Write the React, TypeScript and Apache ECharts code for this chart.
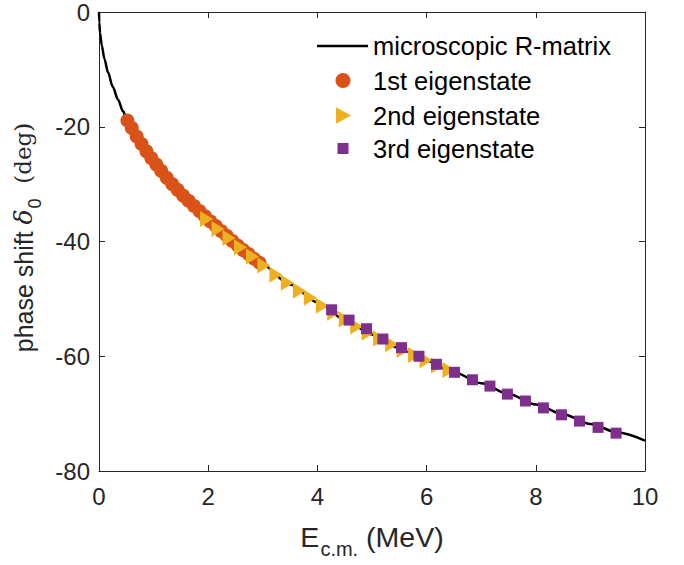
import React, { useEffect, useRef } from "react";
import * as echarts from "echarts";

// microscopic R-matrix curve (E in MeV, phase shift in deg)
const curveE = [0, 0.005, 0.02, 0.05, 0.1, 0.165, 0.25, 0.35, 0.44, 0.52, 0.75, 1.0, 1.25, 1.5, 1.75, 2.0, 2.5, 3.0, 3.5, 4.0, 4.5, 5.0, 5.5, 6.0, 6.5, 7.0, 7.5, 8.0, 8.5, 9.0, 9.5, 10.0];
const curveDelta = [0, -1.8, -3.7, -5.8, -8.2, -10.5, -13.0, -15.3, -17.3, -18.9, -22.6, -26.0, -29.0, -31.5, -33.9, -36.3, -40.5, -44.1, -47.5, -50.6, -53.6, -56.2, -58.6, -60.8, -62.8, -64.7, -66.6, -68.4, -70.1, -71.8, -73.3, -74.7];

// 1st eigenstate
const firstE = [0.52, 0.6, 0.69, 0.78, 0.87, 0.96, 1.05, 1.14, 1.24, 1.34, 1.44, 1.54, 1.64, 1.74, 1.84, 1.94, 2.04, 2.14, 2.24, 2.34, 2.44, 2.54, 2.64, 2.74, 2.84, 2.94];
const firstDelta = [-18.9, -20.2, -21.7, -23.0, -24.3, -25.5, -26.6, -27.7, -28.9, -30.0, -31.0, -32.0, -32.9, -33.8, -34.7, -35.6, -36.5, -37.3, -38.2, -39.0, -39.9, -40.7, -41.5, -42.2, -43.0, -43.7];

// 2nd eigenstate
const secondE = [1.97, 2.18, 2.38, 2.59, 2.81, 3.02, 3.24, 3.45, 3.67, 3.87, 4.09, 4.3, 4.51, 4.72, 4.93, 5.14, 5.36, 5.57, 5.78, 5.99, 6.2, 6.41];
const secondDelta = [-36.1, -37.8, -39.4, -41.0, -42.6, -44.2, -45.8, -47.2, -48.6, -49.8, -51.2, -52.4, -53.6, -54.8, -55.9, -56.9, -57.9, -58.9, -59.8, -60.7, -61.6, -62.4];

// 3rd eigenstate
const thirdE = [4.26, 4.58, 4.9, 5.2, 5.54, 5.86, 6.18, 6.51, 6.84, 7.16, 7.48, 7.81, 8.14, 8.47, 8.8, 9.14, 9.47];
const thirdDelta = [-51.9, -53.7, -55.2, -57.0, -58.5, -60.0, -61.4, -62.8, -64.1, -65.2, -66.6, -67.8, -69.0, -70.2, -71.3, -72.4, -73.4];

const xTicks = [0, 2, 4, 6, 8, 10];
const yTicks = [-80, -60, -40, -20, 0];

const seriesNames = ["microscopic R-matrix", "1st eigenstate", "2nd eigenstate", "3rd eigenstate"];
const seriesColors = ["#000000", "#D95319", "#EDB120", "#7E2F8E"];

const FONT = "Liberation Sans";
const AX = "#262626";

const pair = (xs: number[], ys: number[]) => xs.map((x, i) => [x, ys[i]]);

export default function App() {
  const ref = useRef<HTMLDivElement>(null);
  useEffect(() => {
    if (!ref.current) return;
    const chart = echarts.init(ref.current, undefined, { renderer: "svg" });
    const axisCommon = {
      type: "value" as const,
      axisLine: { show: true, onZero: false, lineStyle: { color: AX, width: 1 } },
      axisTick: { show: true, inside: true, length: 6, lineStyle: { color: AX, width: 1 } },
      splitLine: { show: false },
    };

    // legend (drawn as graphic elements)
    const lx = 343; // icon centre
    const tx = 373; // text start
    const rows = [46, 80.5, 115.5, 148.5];
    const legendText = seriesNames.map((n, i) => ({
      type: "text",
      left: tx,
      top: rows[i] - 15,
      style: { text: n, fontSize: 25.5, fontFamily: FONT, fill: "#000", lineHeight: 30, verticalAlign: "top" },
      silent: true,
    }));
    const graphic = [
      { type: "line", shape: { x1: 317, y1: rows[0], x2: 368, y2: rows[0] }, style: { stroke: seriesColors[0], lineWidth: 2.5 }, silent: true },
      { type: "circle", shape: { cx: lx, cy: rows[1], r: 7.5 }, style: { fill: seriesColors[1] }, silent: true },
      {
        type: "polygon",
        shape: { points: [[lx - 7, rows[2] - 8.3], [lx - 7, rows[2] + 8.3], [lx + 8, rows[2]]] },
        style: { fill: seriesColors[2] },
        silent: true,
      },
      { type: "rect", shape: { x: lx - 5.5, y: rows[3] - 5.5, width: 11, height: 11 }, style: { fill: seriesColors[3] }, silent: true },
      ...legendText,
    ];

    chart.setOption({
      animation: false,
      backgroundColor: "#fff",
      grid: { left: 99, top: 12, width: 546, height: 459, containLabel: false },
      xAxis: [
        {
          ...axisCommon,
          position: "bottom",
          min: xTicks[0],
          max: xTicks[xTicks.length - 1],
          interval: 2,
          axisLabel: { fontSize: 24, fontFamily: FONT, color: AX, margin: 13 },
          name: "{e|E}{s|c.m.}{e| (MeV)}",
          nameLocation: "middle",
          nameGap: 51,
          nameTextStyle: {
            rich: {
              e: { fontSize: 28.5, fontFamily: FONT, color: AX, lineHeight: 29, verticalAlign: "top" },
              s: { fontSize: 20, fontFamily: FONT, color: AX, padding: [17, 0, 0, 1], verticalAlign: "top" },
            },
          },
        },
        {
          ...axisCommon,
          position: "top",
          min: xTicks[0],
          max: xTicks[xTicks.length - 1],
          interval: 2,
          axisLabel: { show: false },
        },
      ],
      yAxis: [
        {
          ...axisCommon,
          position: "left",
          min: yTicks[0],
          max: yTicks[yTicks.length - 1],
          interval: 20,
          axisLabel: { fontSize: 24, fontFamily: FONT, color: AX, margin: 9 },
          name: "{a|phase shift }{d|δ}{s|0}{g|  (deg)}",
          nameLocation: "middle",
          nameRotate: 90,
          nameGap: 45,
          nameTextStyle: {
            padding: [0, 0, 0, 8],
            rich: {
              a: { fontSize: 25, fontFamily: FONT, color: AX, lineHeight: 26, verticalAlign: "top" },
              d: { fontSize: 25, fontFamily: "DejaVu Serif", fontStyle: "italic", color: AX, lineHeight: 26, verticalAlign: "top" },
              s: { fontSize: 18, fontFamily: FONT, color: AX, padding: [15, 0, 0, 1], verticalAlign: "top" },
              g: { fontSize: 23, fontFamily: "DejaVu Serif", color: AX, lineHeight: 26, verticalAlign: "top" },
            },
          },
        },
        {
          ...axisCommon,
          position: "right",
          min: yTicks[0],
          max: yTicks[yTicks.length - 1],
          interval: 20,
          axisLabel: { show: false },
        },
      ],
      graphic,
      series: [
        {
          type: "line",
          name: seriesNames[0],
          data: pair(curveE, curveDelta),
          symbol: "none",
          smooth: 0.3,
          smoothMonotone: "x",
          lineStyle: { color: seriesColors[0], width: 2.5 },
          itemStyle: { color: seriesColors[0] },
          z: 1,
        },
        {
          type: "scatter",
          name: seriesNames[1],
          data: pair(firstE, firstDelta),
          symbol: "circle",
          symbolSize: 14,
          itemStyle: { color: seriesColors[1], opacity: 1 },
          z: 2,
        },
        {
          type: "scatter",
          name: seriesNames[2],
          data: pair(secondE, secondDelta),
          symbol: "triangle",
          symbolRotate: -90,
          symbolSize: [16, 13],
          itemStyle: { color: seriesColors[2], opacity: 1 },
          z: 3,
        },
        {
          type: "scatter",
          name: seriesNames[3],
          data: pair(thirdE, thirdDelta),
          symbol: "rect",
          symbolSize: 11,
          itemStyle: { color: seriesColors[3], opacity: 1 },
          z: 4,
        },
      ],
    });
    return () => chart.dispose();
  }, []);
  return <div ref={ref} style={{ width: 684, height: 565, position: "absolute", left: 0, top: 0 }} />;
}
